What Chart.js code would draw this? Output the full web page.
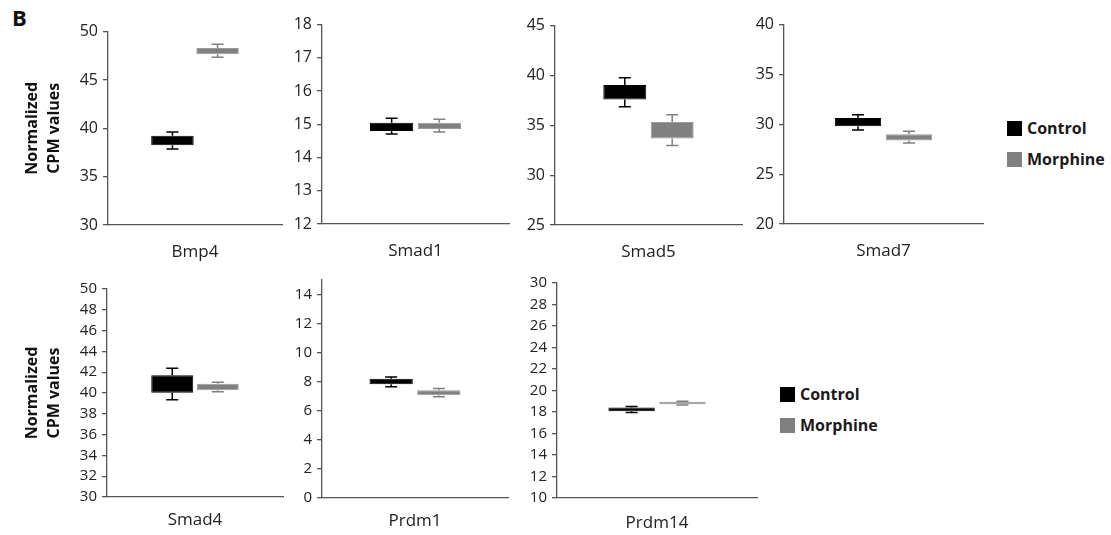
<!DOCTYPE html>
<html>
<head>
<meta charset="utf-8">
<script src="https://cdn.jsdelivr.net/npm/chart.js@4"></script>
<style>
  body { margin: 0; background: #fff; font-family: 'Open Sans', sans-serif; }
  #wrap { position: relative; width: 1111px; height: 535px; overflow: hidden; }
  canvas { position: absolute; }
  .tag { position: absolute; left: 12px; top: 6px; font-weight: bold; font-size: 22px; line-height: 22px; color: #111; }
  .lg { position: absolute; display: flex; align-items: center; height: 20px; font-weight: bold; font-size: 16px; color: #1a1a1a; }
  .lg span { display: inline-block; width: 15px; height: 15px; margin-right: 5px; }
</style>
</head>
<body>
<div id="wrap">
  <div class="tag">B</div>
</div>
<script>
const genes = ['Bmp4', 'Smad1', 'Smad5', 'Smad7', 'Smad4', 'Prdm1', 'Prdm14'];
const seriesNames = ['Control', 'Morphine'];

// box = [q1, q3], whisker = [low, high]
const controlBox = [[38.24, 39.24], [14.8, 15.05], [37.6, 39.03], [29.8, 30.63], [40.03, 41.7], [7.83, 8.2], [18.06, 18.42]];
const controlWhisker = [[37.86, 39.62], [14.71, 15.18], [36.87, 39.77], [29.43, 30.97], [39.35, 42.38], [7.65, 8.33], [17.96, 18.52]];
const morphineBox = [[47.66, 48.31], [14.86, 15.05], [33.67, 35.33], [28.37, 29.0], [40.26, 40.9], [7.07, 7.42], [18.72, 18.95]];
const morphineWhisker = [[47.34, 48.69], [14.77, 15.15], [32.97, 36.07], [28.13, 29.3], [40.13, 41.03], [6.96, 7.53], [18.66, 19.0]];

const yMin = [30, 12, 25, 20, 30, 0, 10];
const yMax = [50, 18, 45, 40, 50, 15, 30];
const yStep = [5, 1, 5, 5, 2, 2, 2];

// panel placement on the page (plot area edges), bar width / gap, x label padding
const panels = [
  { l: 108, r: 282, t: 31, b: 225, bw: 42.5, gap: 2.6, lp: 9, fs: 16 },
  { l: 322, r: 509, t: 24, b: 224, bw: 43.3, gap: 4.4, lp: 9, fs: 16 },
  { l: 555, r: 742, t: 25, b: 225, bw: 43, gap: 4.4, lp: 9, fs: 16 },
  { l: 784, r: 983, t: 24, b: 224, bw: 46.3, gap: 4.7, lp: 9, fs: 16 },
  { l: 107, r: 283, t: 289, b: 497, bw: 42, gap: 3.5, lp: 5, fs: 15 },
  { l: 322, r: 508, t: 280, b: 498, bw: 43.3, gap: 4.4, lp: 5, fs: 15 },
  { l: 557, r: 757, t: 283, b: 498, bw: 46.4, gap: 4.4, lp: 7, fs: 15 }
];
const legends = [{ x: 1007, y: 128 }, { x: 780, y: 394 }];

const axisColor = '#555555';
const textColor = '#222222';
const colors = { box: ['#000000', '#808080'], edge: ['#000000', '#9a9a9a'], whisker: ['#000000', '#808080'] };

const whiskerPlugin = {
  id: 'whiskers',
  afterDatasetsDraw(chart) {
    const ctx = chart.ctx;
    const y = chart.scales.y;
    chart.data.datasets.forEach((ds, i) => {
      chart.getDatasetMeta(i).data.forEach((bar, j) => {
        const [lo, hi] = ds.whiskers[j];
        const [q1, q3] = ds.data[j];
        const x = bar.x;
        ctx.save();
        ctx.strokeStyle = ds.whiskerColor;
        ctx.lineWidth = 1.5;
        ctx.beginPath();
        ctx.moveTo(x, y.getPixelForValue(hi));
        ctx.lineTo(x, y.getPixelForValue(q3));
        ctx.moveTo(x, y.getPixelForValue(q1));
        ctx.lineTo(x, y.getPixelForValue(lo));
        ctx.moveTo(x - 6, y.getPixelForValue(hi));
        ctx.lineTo(x + 6, y.getPixelForValue(hi));
        ctx.moveTo(x - 6, y.getPixelForValue(lo));
        ctx.lineTo(x + 6, y.getPixelForValue(lo));
        ctx.stroke();
        ctx.restore();
      });
    });
  }
};

const wrap = document.getElementById('wrap');

genes.forEach((gene, i) => {
  const p = panels[i];
  const first = i === 0 || i === 4;
  const yw = first ? p.l : 60;
  const padTop = 14, xh = 40, padRight = 3;
  const canvas = document.createElement('canvas');
  canvas.width = yw + (p.r - p.l) + padRight;
  canvas.height = padTop + (p.b - p.t) + xh;
  canvas.style.left = (p.l - yw) + 'px';
  canvas.style.top = (p.t - padTop) + 'px';
  wrap.appendChild(canvas);

  const plotW = p.r - p.l;
  const stride = p.bw + p.gap;
  const catPct = 2 * stride / plotW;
  const barPct = p.bw / stride;

  const boxes = [controlBox, morphineBox];
  const whiskers = [controlWhisker, morphineWhisker];

  new Chart(canvas, {
    type: 'bar',
    data: {
      labels: [gene],
      datasets: seriesNames.map((name, k) => ({
        label: name,
        data: [boxes[k][i]],
        whiskers: [whiskers[k][i]],
        whiskerColor: colors.whisker[k],
        backgroundColor: colors.box[k],
        borderColor: colors.edge[k],
        borderWidth: 1,
        borderSkipped: false,
        categoryPercentage: catPct,
        barPercentage: barPct
      }))
    },
    options: {
      responsive: false,
      animation: false,
      devicePixelRatio: 1,
      layout: { padding: { top: padTop, right: padRight, bottom: 0, left: 0 } },
      plugins: { legend: { display: false }, tooltip: { enabled: false } },
      scales: {
        x: {
          grid: { display: false },
          border: { display: true, color: axisColor, width: 1.3 },
          ticks: { color: textColor, padding: p.lp, font: { family: 'Open Sans', size: 17 } },
          afterFit: (s) => { s.height = xh; }
        },
        y: {
          min: yMin[i],
          max: yMax[i],
          grid: { display: true, drawOnChartArea: false, drawTicks: true, tickLength: 5, color: axisColor, lineWidth: 1.3 },
          border: { display: true, color: axisColor, width: 1.3 },
          ticks: { stepSize: yStep[i], includeBounds: false, autoSkip: false, color: textColor, padding: 5, font: { family: 'Open Sans', size: p.fs } },
          title: {
            display: first,
            text: ['Normalized', 'CPM values'],
            color: '#111',
            font: { family: 'Open Sans', size: 16, weight: 'bold', lineHeight: 1.4 },
            padding: { top: 21, bottom: 0 }
          },
          afterFit: (s) => { s.width = yw; }
        }
      }
    },
    plugins: [whiskerPlugin]
  });
});

legends.forEach((pos) => {
  seriesNames.forEach((name, k) => {
    const item = document.createElement('div');
    item.className = 'lg';
    item.style.left = pos.x + 'px';
    item.style.top = (pos.y + k * 31 - 10) + 'px';
    item.innerHTML = '<span style="background:' + colors.box[k] + '"></span>' + name;
    wrap.appendChild(item);
  });
});
</script>
</body>
</html>
